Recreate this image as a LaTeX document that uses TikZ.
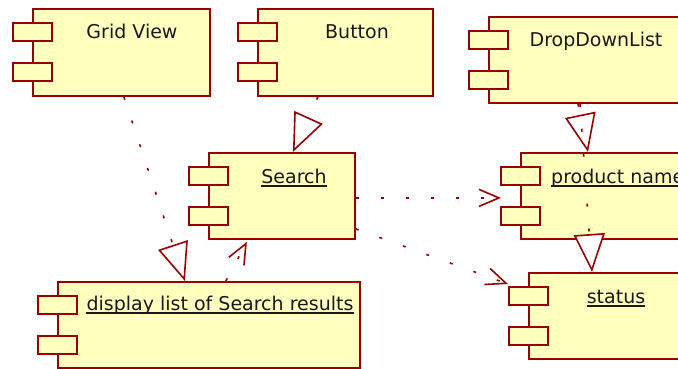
\documentclass[tikz,border=0pt]{standalone}
\usepackage{fontspec}
\setmainfont{DejaVu Sans}
\usetikzlibrary{arrows.meta}
\definecolor{umlred}{RGB}{153,0,0}
\definecolor{umlfill}{RGB}{255,255,190}
\tikzset{
  comp/.style={draw=umlred, fill=umlfill, line width=1.8pt, inner sep=0pt},
  stub/.style={draw=umlred, fill=umlfill, line width=1.8pt, inner sep=0pt, minimum width=39pt, minimum height=18pt},
  lbl/.style={font=\fontsize{19}{22}\selectfont, text=black!90, inner sep=0pt},
  uline/.style={draw=black!90, line width=1.4pt},
  dep/.style={draw=umlred, line width=1.6pt, dash pattern=on 3pt off 22pt},
  real/.style={dep, -{Triangle[length=38pt,width=31pt,fill=white,line width=1.6pt]}},
  usedep/.style={dep, -{Straight Barb[length=20pt,width=17pt,line width=1.6pt]}},
}
\newcommand\umlcomp[5]{%
  \node[comp, minimum width=#4pt, minimum height=#5pt, anchor=north west] (#1) at (#2,#3) {};
  \node[stub, anchor=north west] (#1s1) at (#2-20,#3+14) {};
  \node[stub, anchor=north west] (#1s2) at (#2-20,#3+54) {};
}
\begin{document}
\begin{tikzpicture}[x=1pt,y=-1pt]
\useasboundingbox (0,0) rectangle (678,369);
\umlcomp{gv}{32}{8}{177}{87}
\umlcomp{bt}{257}{8}{175}{87}
\umlcomp{ddl}{488}{16}{197}{86}
\umlcomp{se}{208}{152}{146}{86}
\umlcomp{pn}{520}{152}{183}{86}
\umlcomp{dl}{57}{281}{302}{86}
\umlcomp{st}{528}{272}{157}{86}

\node[lbl, anchor=base] (gvt) at (132,39) {Grid View};
\node[lbl, anchor=base] (btt) at (357,39) {Button};
\node[lbl, anchor=base] (ddlt) at (596,47) {DropDownList};
\node[lbl, anchor=base] (set) at (294,183) {Search};
\node[lbl, anchor=base west] (pnt) at (551,183) {product name};
\node[lbl, anchor=base] (dlt) at (220,310) {display list of Search results};
\node[lbl, anchor=base] (stt) at (616,303) {status};
\foreach \t in {set,pnt,dlt,stt}
  \draw[uline] ([yshift=-3pt]\t.base west) -- ([yshift=-3pt]\t.base east);

\draw[real] ([xshift=2.5pt]gv.south) -- ([xshift=-24pt]dl.north);
\draw[real] ([xshift=-27.5pt]bt.south) -- ([xshift=11pt]se.north);
\draw[real] ([xshift=90pt]ddl.south west) -- ([xshift=68pt]pn.north west);
\draw[real] ([xshift=92pt]ddl.south west) -- ([xshift=64pt]st.north west);
\draw[usedep] ([yshift=-2pt]se.east) -- ([xshift=-19pt,yshift=-2pt]pn.west);
\draw[usedep] ([yshift=-33pt]se.east) -- ([xshift=-20pt,yshift=-12pt]st.north west);
\draw[usedep] ([xshift=17pt]dl.north) -- ([xshift=-35pt,yshift=-2pt]se.south);
\end{tikzpicture}
\end{document}
